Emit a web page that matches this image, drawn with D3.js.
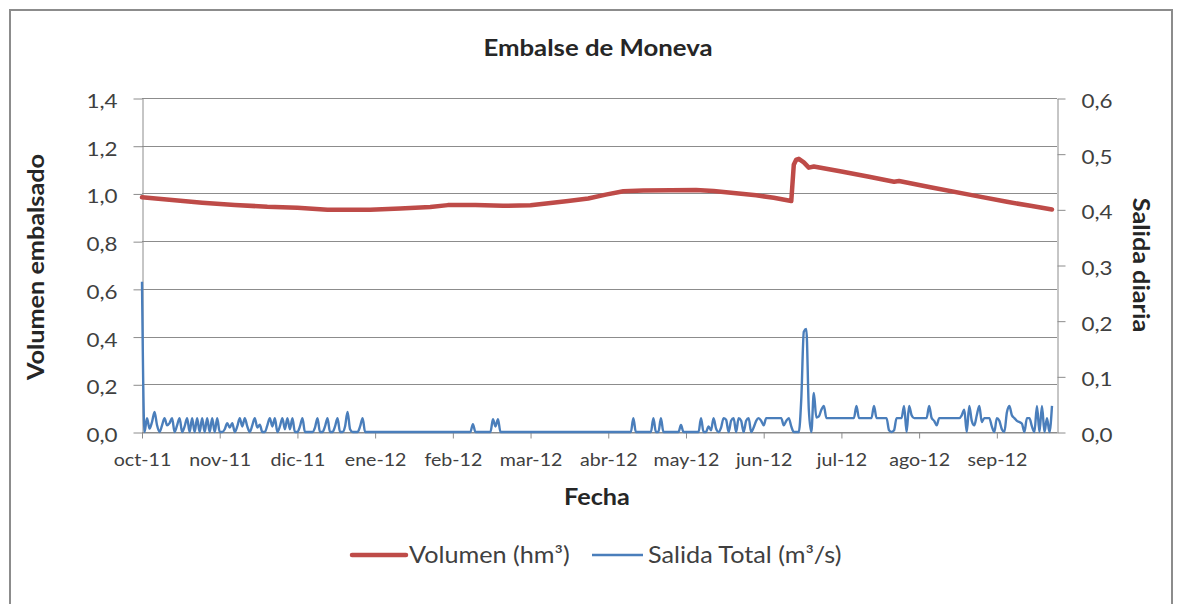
<!DOCTYPE html>
<html>
<head>
<meta charset="UTF-8">
<title>Embalse de Moneva</title>
<script src="https://cdnjs.cloudflare.com/ajax/libs/d3/7.8.5/d3.min.js"></script>
<style>
  body { margin: 0; background: #fff; }
  svg { display: block; font-family: Lato, "Open Sans", sans-serif; }
  .grid line { stroke: #8c8c8c; stroke-width: 1px; }
  .axis path, .axis line { stroke: #8c8c8c; stroke-width: 1px; }
  .axis text { fill: #404040; font-size: 17.5px; font-family: Lato, sans-serif; }
  .axis.yy text { font-size: 20px; }
  .ttl { fill: #262626; font-weight: bold; font-size: 22.5px; }
  .ttl.main { font-size: 23px; }
  .leg { fill: #404040; font-size: 22.5px; }
</style>
</head>
<body>
<svg width="1181" height="604"></svg>
<script>
// primer día del año hidrológico (oct-11)
var inicio = new Date(Date.UTC(2011, 9, 1));
var fin = new Date(Date.UTC(2012, 8, 30));

// Volumen embalsado (hm3): día desde 1-oct-11 y valor leído
var volDia = [0, 12, 24, 37, 50, 62, 74, 91, 103, 115,
  122, 133, 144, 155, 163, 170, 178, 185, 192, 200,
  211, 221, 228, 235, 245, 252, 259, 260, 261, 262,
  264, 266, 268, 279, 290, 300, 302, 304, 315, 331,
  345, 355, 363];
var volHm3 = [0.984, 0.972, 0.961, 0.952, 0.944, 0.940, 0.932, 0.932, 0.937, 0.943,
  0.951, 0.951, 0.948, 0.950, 0.960, 0.968, 0.979, 0.995, 1.009, 1.012,
  1.013, 1.014, 1.010, 1.003, 0.992, 0.982, 0.968, 1.120, 1.142, 1.145,
  1.130, 1.108, 1.113, 1.092, 1.070, 1.049, 1.052, 1.048, 1.025, 0.993,
  0.965, 0.947, 0.933];

// Salida total diaria (m3/s), un array por mes
var salOct = [0.27, 0, 0.025, 0.006, 0.018, 0.036, 0.012, 0, 0.012, 0.025, 0.012, 0.016, 0.025, 0, 0.012, 0.025,
  0, 0.01, 0.025, 0, 0.025, 0, 0.025, 0, 0.025, 0, 0.025, 0, 0.025, 0, 0.025];
var salNov = [0, 0, 0.005, 0.016, 0.008, 0.016, 0, 0.01, 0.025, 0.01, 0.025, 0.01, 0, 0.012, 0.025,
  0.008, 0.013, 0, 0, 0.012, 0.025, 0.01, 0.025, 0, 0.01, 0.025, 0.005, 0.025, 0.005, 0.025];
var salDic = [0, 0, 0.01, 0.025, 0, 0, 0, 0, 0.008, 0.025, 0, 0, 0.01, 0.025, 0, 0,
  0.01, 0.025, 0, 0, 0.01, 0.036, 0.005, 0, 0, 0, 0.01, 0.025, 0, 0, 0];
var salEne = [0, 0, 0, 0, 0, 0, 0, 0, 0, 0, 0, 0, 0, 0, 0, 0,
  0, 0, 0, 0, 0, 0, 0, 0, 0, 0, 0, 0, 0, 0, 0];
var salFeb = [0, 0, 0, 0, 0, 0, 0, 0, 0, 0.014, 0, 0, 0, 0, 0,
  0, 0, 0.023, 0.01, 0.023, 0, 0, 0, 0, 0, 0, 0, 0, 0];
var salMar = [0, 0, 0, 0, 0, 0, 0, 0, 0, 0, 0, 0, 0, 0, 0, 0,
  0, 0, 0, 0, 0, 0, 0, 0, 0, 0, 0, 0, 0, 0, 0];
var salAbr = [0, 0, 0, 0, 0, 0, 0, 0, 0, 0, 0, 0, 0, 0.025, 0,
  0, 0, 0, 0, 0, 0, 0.025, 0, 0, 0.025, 0, 0, 0, 0, 0];
var salMay = [0, 0, 0.0125, 0, 0, 0, 0, 0, 0, 0, 0.025, 0, 0, 0.01, 0.003, 0.025,
  0.006, 0, 0.008, 0.025, 0.022, 0, 0.02, 0.025, 0, 0.025, 0.02, 0, 0.02, 0.025, 0];
var salJun = [0.008, 0.02, 0.025, 0.02, 0.012, 0.025, 0.025, 0.025, 0.025, 0.025, 0.025, 0.025, 0.012, 0.02, 0.025,
  0.01, 0, 0, 0, 0.06, 0.18, 0.185, 0.04, 0, 0.07, 0.026, 0.028, 0.04, 0.047, 0.025];
var salJul = [0.025, 0.025, 0.025, 0.025, 0.025, 0.025, 0.025, 0.025, 0.025, 0.025, 0.025, 0.047, 0.025, 0.025, 0.025, 0.025,
  0.025, 0.025, 0.047, 0.025, 0.025, 0.025, 0.025, 0.025, 0.003, 0, 0.003, 0.025, 0.025, 0.025, 0.047];
var salAgo = [0, 0.047, 0.03, 0.025, 0.025, 0.025, 0.025, 0.025, 0.025, 0.047, 0.025, 0.02, 0.012, 0.025, 0.025, 0.025,
  0.025, 0.025, 0.025, 0.025, 0.025, 0.025, 0.03, 0.04, 0, 0.047, 0.02, 0.012, 0.03, 0.047, 0.018];
var salSep = [0.025, 0.025, 0.025, 0.01, 0, 0.025, 0.02, 0.005, 0, 0.035, 0.047, 0.03, 0.025, 0.02,
  0.018, 0.015, 0, 0.025, 0.025, 0.01, 0, 0.047, 0, 0.047, 0, 0.025, 0, 0.047];

var yIzqTicks = [0, 0.2, 0.4, 0.6, 0.8, 1.0, 1.2, 1.4];
var yDerTicks = [0, 0.1, 0.2, 0.3, 0.4, 0.5, 0.6];
var pasoMeses = 31;   // el eje de categorías pone una marca cada 31 días

var series = ["Volumen (hm\u00B3)", "Salida Total (m\u00B3/s)"];
var colores = ["#BE4B48", "#4A7EBB"];

var svg = d3.select("svg"),
    L = 142, R = 1057, T = 98, B = 432,
    SX = 1.12;

var es = d3.timeFormatLocale({
  dateTime: "%A, %e de %B de %Y, %X", date: "%d/%m/%Y", time: "%H:%M:%S",
  periods: ["AM", "PM"],
  days: ["domingo", "lunes", "martes", "miércoles", "jueves", "viernes", "sábado"],
  shortDays: ["dom", "lun", "mar", "mié", "jue", "vie", "sáb"],
  months: ["enero", "febrero", "marzo", "abril", "mayo", "junio", "julio", "agosto", "septiembre", "octubre", "noviembre", "diciembre"],
  shortMonths: ["ene", "feb", "mar", "abr", "may", "jun", "jul", "ago", "sep", "oct", "nov", "dic"]
});
var fmtMes = es.utcFormat("%b-%y");
var fmtNum = function (d) { return d3.format(".1f")(d).replace(".", ","); };

var x = d3.scaleUtc().domain([inicio, fin]).range([L, R]);
var yIzq = d3.scaleLinear().domain([0, 1.4]).range([B, T]);
var yDer = d3.scaleLinear().domain([0, 0.6]).range([B, T]);

var volumen = volDia.map(function (d, i) { return { fecha: d3.utcDay.offset(inicio, d), v: volHm3[i] }; });
var salida = [].concat(salOct, salNov, salDic, salEne, salFeb, salMar, salAbr, salMay, salJun, salJul, salAgo, salSep)
  .map(function (v, i) { return { fecha: d3.utcDay.offset(inicio, i), v: v }; });

var xTicks = d3.range(0, 365, pasoMeses).map(function (i) { return d3.utcDay.offset(inicio, i); });

// estira el texto en horizontal como en la imagen original
function estirar(sel) {
  sel.each(function () {
    var w = this.getComputedTextLength();
    d3.select(this).attr("textLength", w * SX).attr("lengthAdjust", "spacingAndGlyphs");
  });
}

// marco del gráfico
svg.append("rect")
  .attr("x", 10).attr("y", 10).attr("width", 1162).attr("height", 640)
  .attr("fill", "none").attr("stroke", "#8c8c8c").attr("stroke-width", 2);

// líneas de división
svg.append("g").attr("class", "grid")
  .selectAll("line").data(yIzqTicks).enter().append("line")
  .attr("x1", L).attr("x2", R)
  .attr("y1", function (d) { return Math.round(yIzq(d)) + 0.5; })
  .attr("y2", function (d) { return Math.round(yIzq(d)) + 0.5; });

var gIzq = svg.append("g").attr("class", "axis yy")
  .attr("transform", "translate(" + (L + 0.5) + ",0.5)")
  .call(d3.axisLeft(yIzq).tickValues(yIzqTicks).tickFormat(fmtNum).tickSize(9).tickSizeOuter(0).tickPadding(16));
gIzq.selectAll("text").attr("dy", "0.45em");

var gDer = svg.append("g").attr("class", "axis yy")
  .attr("transform", "translate(" + (R + 0.5) + ",0.5)")
  .call(d3.axisRight(yDer).tickValues(yDerTicks).tickFormat(fmtNum).tickSize(8).tickSizeOuter(0).tickPadding(16));
gDer.selectAll("text").attr("dy", "0.45em");

var gX = svg.append("g").attr("class", "axis")
  .attr("transform", "translate(0," + (B + 0.5) + ")")
  .call(d3.axisBottom(x).tickValues(xTicks).tickFormat(fmtMes).tickSize(6).tickSizeOuter(0).tickPadding(15));

estirar(svg.selectAll(".axis text"));

// series
svg.append("path").datum(volumen)
  .attr("fill", "none").attr("stroke", colores[0]).attr("stroke-width", 4.5)
  .attr("stroke-linejoin", "round").attr("stroke-linecap", "round")
  .attr("d", d3.line().x(function (d) { return x(d.fecha); }).y(function (d) { return yIzq(d.v); }));

svg.append("path").datum(salida)
  .attr("fill", "none").attr("stroke", colores[1]).attr("stroke-width", 2.4)
  .attr("stroke-linejoin", "round")
  .attr("d", d3.line().curve(d3.curveMonotoneX)
    .x(function (d) { return x(d.fecha); }).y(function (d) { return yDer(d.v); }));

// títulos
var titulos = svg.append("g");
titulos.append("text").attr("class", "ttl main")
  .attr("x", 598).attr("y", 56).attr("text-anchor", "middle").text("Embalse de Moneva");
titulos.append("text").attr("class", "ttl")
  .attr("x", 597).attr("y", 505).attr("text-anchor", "middle").text("Fecha");
titulos.append("text").attr("class", "ttl")
  .attr("transform", "translate(44,267) rotate(-90)").attr("text-anchor", "middle").text("Volumen embalsado");
titulos.append("text").attr("class", "ttl")
  .attr("transform", "translate(1133,265) rotate(90)").attr("text-anchor", "middle").text("Salida diaria");
estirar(titulos.selectAll("text"));

// leyenda
var legX = [352, 592];
var ley = svg.append("g").selectAll("g").data(series).enter().append("g")
  .attr("transform", function (d, i) { return "translate(" + legX[i] + ",555)"; });
ley.append("line").attr("x1", 0).attr("x2", function (d, i) { return i ? 51 : 54; })
  .attr("stroke", function (d, i) { return colores[i]; })
  .attr("stroke-width", function (d, i) { return i ? 2.4 : 4.5; })
  .attr("stroke-linecap", function (d, i) { return i ? "butt" : "round"; });
ley.append("text").attr("class", "leg")
  .attr("x", function (d, i) { return i ? 56 : 57; }).attr("y", 8).text(function (d) { return d; });
estirar(ley.selectAll("text"));
</script>
</body>
</html>
